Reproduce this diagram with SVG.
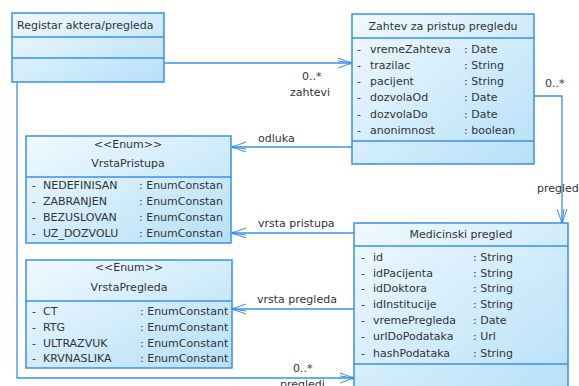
<svg xmlns="http://www.w3.org/2000/svg" width="579" height="386" viewBox="0 0 579 386">
<defs>
<linearGradient id="g" x1="0" y1="0" x2="1" y2="1">
<stop offset="0" stop-color="#f0f9ff"/>
<stop offset="1" stop-color="#b6e0f8"/>
</linearGradient>
<clipPath id="clipVP"><rect x="26" y="136" width="205" height="107"/></clipPath>
<marker id="arr" viewBox="-16 -8 18 16" refX="0" refY="0" markerWidth="18" markerHeight="16" markerUnits="userSpaceOnUse" orient="auto">
<path d="M-14,-5 L0,0 L-14,5 M-14,-2 L0,0" fill="none" stroke="#3d8fe6" stroke-width="1"/>
<circle cx="-1" cy="0" r="1.6" fill="#3d8fe6"/>
</marker>
<style>
.box{fill:url(#g);stroke:#3d8fe6;stroke-width:1.5}
.div{stroke:#3d8fe6;stroke-width:1.5}
.t{font-family:"DejaVu Sans","Liberation Sans",Arial,sans-serif;font-size:11px;fill:#333}
.c{text-anchor:middle}
.conn{fill:none;stroke:#3d8fe6;stroke-width:1.3}
</style>
</defs>
<rect width="579" height="386" fill="#ffffff"/>

<g id="connectors">
<path class="conn" d="M164,63 H352" marker-end="url(#arr)"/>
<path class="conn" d="M352,147 H232" marker-end="url(#arr)"/>
<path class="conn" d="M534,96 H562 V223" marker-end="url(#arr)"/>
<path class="conn" d="M354,233 H232" marker-end="url(#arr)"/>
<path class="conn" d="M354,309 H232" marker-end="url(#arr)"/>
<path class="conn" d="M17,82 V378 H354" marker-end="url(#arr)"/>
<text class="t" x="302" y="80">0..*</text>
<text class="t" x="290" y="96">zahtevi</text>
<text class="t" x="258" y="142">odluka</text>
<text class="t" x="545" y="87">0..*</text>
<text class="t" x="537" y="192">pregled</text>
<text class="t" x="258" y="227">vrsta pristupa</text>
<text class="t" x="257" y="303">vrsta pregleda</text>
<text class="t" x="293" y="372">0..*</text>
<text class="t" x="280" y="388">pregledi</text>
</g>

<g id="registar">
<rect class="box" x="12" y="13" width="152" height="69"/>
<line class="div" x1="12" y1="37" x2="164" y2="37"/>
<line class="div" x1="12" y1="58" x2="164" y2="58"/>
<text class="t" x="17" y="29">Registar aktera/pregleda</text>
</g>

<g id="zahtev">
<rect class="box" x="352" y="14" width="182" height="150"/>
<line class="div" x1="352" y1="38" x2="534" y2="38"/>
<line class="div" x1="352" y1="141" x2="534" y2="141"/>
<text class="t c" x="443" y="30">Zahtev za pristup pregledu</text>
<g class="t">
<text x="357" y="53">-</text><text x="370" y="53">vremeZahteva</text><text x="464" y="53">: Date</text>
<text x="357" y="69">-</text><text x="370" y="69">trazilac</text><text x="464" y="69">: String</text>
<text x="357" y="85">-</text><text x="370" y="85">pacijent</text><text x="464" y="85">: String</text>
<text x="357" y="101">-</text><text x="370" y="101">dozvolaOd</text><text x="464" y="101">: Date</text>
<text x="357" y="118">-</text><text x="370" y="118">dozvolaDo</text><text x="464" y="118">: Date</text>
<text x="357" y="134">-</text><text x="370" y="134">anonimnost</text><text x="464" y="134">: boolean</text>
</g>
</g>

<g id="vrstaPristupa">
<rect class="box" x="26" y="136" width="205" height="107"/>
<line class="div" x1="26" y1="177" x2="231" y2="177"/>
<text class="t c" x="128" y="148">&lt;&lt;Enum&gt;&gt;</text>
<text class="t c" x="128" y="167">VrstaPristupa</text>
<g class="t" clip-path="url(#clipVP)">
<text x="32" y="189">-</text><text x="43" y="189">NEDEFINISAN</text><text x="139" y="189">: EnumConstan</text>
<text x="32" y="205">-</text><text x="43" y="205">ZABRANJEN</text><text x="139" y="205">: EnumConstan</text>
<text x="32" y="221">-</text><text x="43" y="221">BEZUSLOVAN</text><text x="139" y="221">: EnumConstan</text>
<text x="32" y="237">-</text><text x="43" y="237">UZ_DOZVOLU</text><text x="139" y="237">: EnumConstan</text>
</g>
</g>

<g id="vrstaPregleda">
<rect class="box" x="26" y="260" width="206" height="108"/>
<line class="div" x1="26" y1="301" x2="232" y2="301"/>
<text class="t c" x="129" y="271">&lt;&lt;Enum&gt;&gt;</text>
<text class="t c" x="129" y="291">VrstaPregleda</text>
<g class="t">
<text x="32" y="315">-</text><text x="43" y="315">CT</text><text x="140" y="315">: EnumConstant</text>
<text x="32" y="331">-</text><text x="43" y="331">RTG</text><text x="140" y="331">: EnumConstant</text>
<text x="32" y="347">-</text><text x="43" y="347">ULTRAZVUK</text><text x="140" y="347">: EnumConstant</text>
<text x="32" y="362">-</text><text x="43" y="362">KRVNASLIKA</text><text x="140" y="362">: EnumConstant</text>
</g>
</g>

<g id="medicinski">
<rect class="box" x="354" y="223" width="214" height="170"/>
<line class="div" x1="354" y1="246" x2="568" y2="246"/>
<line class="div" x1="354" y1="364" x2="568" y2="364"/>
<text class="t c" x="461" y="238">Medicinski pregled</text>
<g class="t">
<text x="361" y="261">-</text><text x="373" y="261">id</text><text x="473" y="261">: String</text>
<text x="361" y="277">-</text><text x="373" y="277">idPacijenta</text><text x="473" y="277">: String</text>
<text x="361" y="292">-</text><text x="373" y="292">idDoktora</text><text x="473" y="292">: String</text>
<text x="361" y="308">-</text><text x="373" y="308">idInstitucije</text><text x="473" y="308">: String</text>
<text x="361" y="324">-</text><text x="373" y="324">vremePregleda</text><text x="473" y="324">: Date</text>
<text x="361" y="340">-</text><text x="373" y="340">urlDoPodataka</text><text x="473" y="340">: Url</text>
<text x="361" y="357">-</text><text x="373" y="357">hashPodataka</text><text x="473" y="357">: String</text>
</g>
</g>
</svg>
